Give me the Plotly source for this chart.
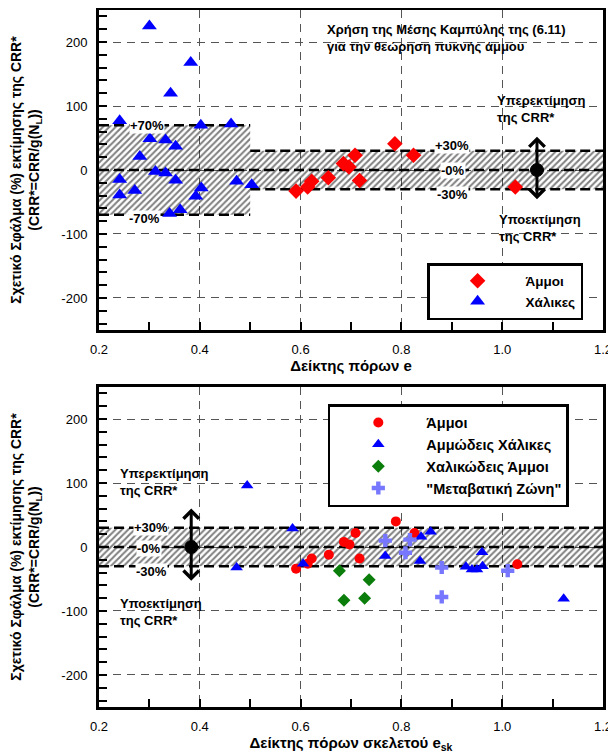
import plotly.graph_objects as go

FONT = "Arial, Liberation Sans, sans-serif"

# ---------------- data ----------------
# Top panel: relative error vs void ratio e
TOP_SAND_E = [0.591, 0.614, 0.622, 0.655, 0.685, 0.696, 0.708, 0.717, 0.787, 0.824, 1.026]
TOP_SAND_ERR = [-33, -26.5, -17.6, -12, 10, 4.7, 23, -16.5, 41, 23, -26.5]

TOP_GRAVEL_E = [0.300, 0.382, 0.342, 0.241, 0.402, 0.462, 0.301, 0.332, 0.352, 0.281, 0.312,
                0.332, 0.241, 0.352, 0.473, 0.503, 0.403, 0.271, 0.241, 0.392, 0.361, 0.340]
TOP_GRAVEL_ERR = [225, 168, 120, 77, 70, 72, 49, 47, 37, 21, -2.5,
                  -4.7, -15, -16, -17.6, -23, -28, -32, -39, -41, -62, -68]

# Bottom panel: relative error vs skeleton void ratio e_sk
BOT_SAND_ESK = [0.591, 0.614, 0.622, 0.656, 0.686, 0.697, 0.709, 0.717, 0.789, 0.826, 1.030]
BOT_SAND_ERR = [-34, -26, -18, -12, 8, 4, 22, -18, 40, 22, -27]

BOT_SGRAVEL_ESK = [0.494, 0.584, 0.473, 0.605, 0.768, 0.839, 0.858, 0.837, 0.960, 0.928,
                   0.940, 0.950, 0.961, 1.122]
BOT_SGRAVEL_ERR = [96, 29, -32, -26, -14, 16, 24, -22, -8, -31, -35, -35, -30, -81]

BOT_GSAND_ESK = [0.677, 0.736, 0.686, 0.727]
BOT_GSAND_ERR = [-37, -51, -83, -80]

BOT_TRANS_ESK = [0.768, 0.817, 0.808, 0.880, 1.011, 0.880]
BOT_TRANS_ERR = [10, 11.5, -9, -32, -37, -78]

X_TICKS = [0.2, 0.4, 0.6, 0.8, 1.0, 1.2]
X_TICK_LABELS = ["0.2", "0.4", "0.6", "0.8", "1.0", "1.2"]
Y_TICKS = [-200, -100, 0, 100, 200]
Y_TICK_LABELS = ["-200", "-100", "0", "100", "200"]

# error bands (x0, x1, half-height in %)
TOP_BANDS = [(0.2, 0.5, 70), (0.5, 1.2, 30)]
BOT_BANDS = [(0.2, 1.2, 30)]

X_RANGE = [0.2, 1.2]
Y_RANGE = [-250, 250]

# ---------------- figure ----------------
fig = go.Figure()


def add_band(xa, ya, x0, x1, h):
    fig.add_trace(go.Scatter(
        x=[x0, x1, x1, x0, x0], y=[-h, -h, h, h, -h], mode="lines",
        fill="toself", fillcolor="rgba(0,0,0,0)", line=dict(width=0, color="rgba(0,0,0,0)"),
        fillpattern=dict(shape="/", fgcolor="black", bgcolor="rgba(0,0,0,0)",
                         size=4.5, solidity=0.45, fillmode="overlay"),
        xaxis=xa, yaxis=ya, showlegend=False, hoverinfo="skip"))


for b in TOP_BANDS:
    add_band("x", "y", *b)
for b in BOT_BANDS:
    add_band("x2", "y2", *b)

# top panel markers
fig.add_trace(go.Scatter(x=TOP_SAND_E, y=TOP_SAND_ERR, mode="markers", name="Άμμοι",
                         marker=dict(symbol="diamond", color="#ff0000", size=12),
                         xaxis="x", yaxis="y", legend="legend"))
fig.add_trace(go.Scatter(x=TOP_GRAVEL_E, y=TOP_GRAVEL_ERR, mode="markers", name="Χάλικες",
                         marker=dict(symbol="triangle-up", color="#0000ff", size=13),
                         xaxis="x", yaxis="y", legend="legend"))

# bottom panel markers
fig.add_trace(go.Scatter(x=BOT_SAND_ESK, y=BOT_SAND_ERR, mode="markers", name="Άμμοι",
                         marker=dict(symbol="circle", color="#ff0000", size=10),
                         xaxis="x2", yaxis="y2", legend="legend2"))
fig.add_trace(go.Scatter(x=BOT_SGRAVEL_ESK, y=BOT_SGRAVEL_ERR, mode="markers",
                         name="Αμμώδεις Χάλικες",
                         marker=dict(symbol="triangle-up", color="#0000ff", size=11),
                         xaxis="x2", yaxis="y2", legend="legend2"))
fig.add_trace(go.Scatter(x=BOT_GSAND_ESK, y=BOT_GSAND_ERR, mode="markers",
                         name="Χαλικώδεις Άμμοι",
                         marker=dict(symbol="diamond", color="#0b7d0b", size=10),
                         xaxis="x2", yaxis="y2", legend="legend2"))
fig.add_trace(go.Scatter(x=BOT_TRANS_ESK, y=BOT_TRANS_ERR, mode="markers",
                         name="\"Μεταβατική Ζώνη\"",
                         marker=dict(symbol="cross", color="#7676ff", size=11),
                         xaxis="x2", yaxis="y2", legend="legend2"))

# ---------------- shapes: band boundary dashed lines ----------------
shapes = []
BAND_LINE = dict(color="black", width=2.5, dash="10px,5px")


def hline(xr, yr, x0, x1, y):
    shapes.append(dict(type="line", xref=xr, yref=yr, x0=x0, x1=x1, y0=y, y1=y,
                       line=BAND_LINE, layer="between"))


for (x0, x1, h) in TOP_BANDS:
    hline("x", "y", x0, x1, h)
    hline("x", "y", x0, x1, -h)
hline("x", "y", X_RANGE[0], X_RANGE[1], 0)
for (x0, x1, h) in BOT_BANDS:
    hline("x2", "y2", x0, x1, h)
    hline("x2", "y2", x0, x1, -h)
hline("x2", "y2", X_RANGE[0], X_RANGE[1], 0)

# black dots at the centre of the double arrows
ARROW_TOP = (1.069, 52, -48)
ARROW_BOT = (0.383, 60, -55)
for (xr, yr, a) in (("x", "y", ARROW_TOP), ("x2", "y2", ARROW_BOT)):
    shapes.append(dict(type="circle", xref=xr, yref=yr, xsizemode="pixel", ysizemode="pixel",
                       xanchor=a[0], yanchor=0, x0=-6.5, x1=6.5, y0=-6.5, y1=6.5,
                       fillcolor="black", line=dict(color="black", width=1), layer="above"))

# ---------------- annotations ----------------
ann = []


def text(xr, yr, x, y, t, xanchor="center", bg=None, size=13):
    d = dict(xref=xr, yref=yr, x=x, y=y, text="<b>" + t + "</b>", showarrow=False,
             xanchor=xanchor, yanchor="middle", align="left",
             font=dict(family=FONT, size=size, color="black"))
    if bg:
        d["bgcolor"] = bg
        d["borderpad"] = 0
    ann.append(d)


# top panel
text("x", "y", 0.296, 70, "+70%", bg="white")
text("x", "y", 0.29, -75, "-70%", bg="white")
text("x", "y", 0.901, 38.5, "+30%", bg="white")
text("x", "y", 0.903, 0, "-0%", bg="white")
text("x", "y", 0.901, -39, "-30%", bg="white")
text("x", "y", 0.649, 207, "Χρήση της Μέσης Καμπύλης της (6.11)<br>για την θεώρηση πυκνής άμμου",
     xanchor="left")
text("x", "y", 0.986, 96, "Υπερεκτίμηση<br>της CRR*", xanchor="left")
text("x", "y", 0.99, -90, "Υποεκτίμηση<br>της CRR*", xanchor="left")

# bottom panel
text("x2", "y2", 0.304, 30, "+30%", bg="white")
text("x2", "y2", 0.300, -2, "-0%", bg="white")
text("x2", "y2", 0.304, -39, "-30%", bg="white")
text("x2", "y2", 0.237, 102, "Υπερεκτίμηση<br>της CRR*", xanchor="left")
text("x2", "y2", 0.237, -102, "Υποεκτίμηση<br>της CRR*", xanchor="left")

# double arrows
for (xr, yr, a) in (("x", "y", ARROW_TOP), ("x2", "y2", ARROW_BOT)):
    ann.append(dict(xref=xr, yref=yr, axref=xr, ayref=yr, x=a[0], y=a[1], ax=a[0], ay=a[2],
                    text="", showarrow=True, arrowhead=4, startarrowhead=4, arrowside="end+start",
                    arrowsize=1, startarrowsize=1, arrowwidth=3, arrowcolor="black",
                    standoff=0, startstandoff=0))

# ---------------- axes ----------------
GRID = dict(showgrid=True, gridcolor="#555555", gridwidth=1, griddash="8px,6px")
LINE = dict(showline=True, linecolor="black", linewidth=3, mirror=True, zeroline=False,
            automargin=False)
TICKFONT = dict(family=FONT, size=13, color="black")
TITLEFONT = dict(family=FONT, size=15, color="black", weight="bold")


def xaxis_cfg(anchor, domain_title):
    return dict(domain=[0, 1], anchor=anchor, range=X_RANGE, tickmode="array",
                tickvals=X_TICKS, ticktext=X_TICK_LABELS, ticks="inside", ticklen=8,
                tickcolor="black", tickwidth=1.5, tickfont=TICKFONT, ticklabelstandoff=5,
                minor=dict(dtick=0.1, tick0=0.2, ticks="inside", ticklen=8, tickcolor="black",
                           tickwidth=1.5, showgrid=False),
                title=dict(text=domain_title, font=TITLEFONT, standoff=3),
                **GRID, **LINE)


YTITLE = "Σχετικό Σφάλμα (%) εκτίμησης της CRR*<br>(CRR*=CRR/g(N<sub>L</sub>))"


def yaxis_cfg(anchor, domain):
    return dict(domain=domain, anchor=anchor, range=Y_RANGE, tickmode="array",
                tickvals=Y_TICKS, ticktext=Y_TICK_LABELS, ticks="inside", ticklen=8,
                tickcolor="black", tickwidth=1.5, tickfont=TICKFONT, ticklabelstandoff=6,
                minor=dict(dtick=20, tick0=0, ticks="inside", ticklen=8, tickcolor="black",
                           tickwidth=1.5, showgrid=False),
                title=dict(text=YTITLE, font=dict(family=FONT, size=14, color="black",
                                                  weight="bold"), standoff=20),
                **GRID, **LINE)


def legend_cfg(x, y, size):
    return dict(x=x, y=y, xanchor="left", yanchor="top", bordercolor="black", borderwidth=2.5,
                bgcolor="white", font=dict(family=FONT, size=size, color="black", weight="bold"),
                itemwidth=86, itemsizing="trace", tracegroupgap=0)


# The page adds an 8 px body margin, so the figure is sized to the visible area.
fig.update_layout(
    width=608, height=746,
    margin=dict(l=91, r=13, t=2, b=47, autoexpand=False),
    plot_bgcolor="white", paper_bgcolor="white",
    font=dict(family=FONT, size=13, color="black"),
    xaxis=xaxis_cfg("y", "Δείκτης πόρων e"),
    yaxis=yaxis_cfg("x", [0.5409, 1.0]),
    xaxis2=xaxis_cfg("y2", "Δείκτης πόρων σκελετού e<sub>sk</sub>"),
    yaxis2=yaxis_cfg("x2", [0.0, 0.4591]),
    legend=legend_cfg(0.651, 0.637, 13.5),
    legend2=legend_cfg(0.454, 0.4347, 14.5),
    shapes=shapes,
    annotations=ann,
    showlegend=True,
)

fig.write_html("out.html")
